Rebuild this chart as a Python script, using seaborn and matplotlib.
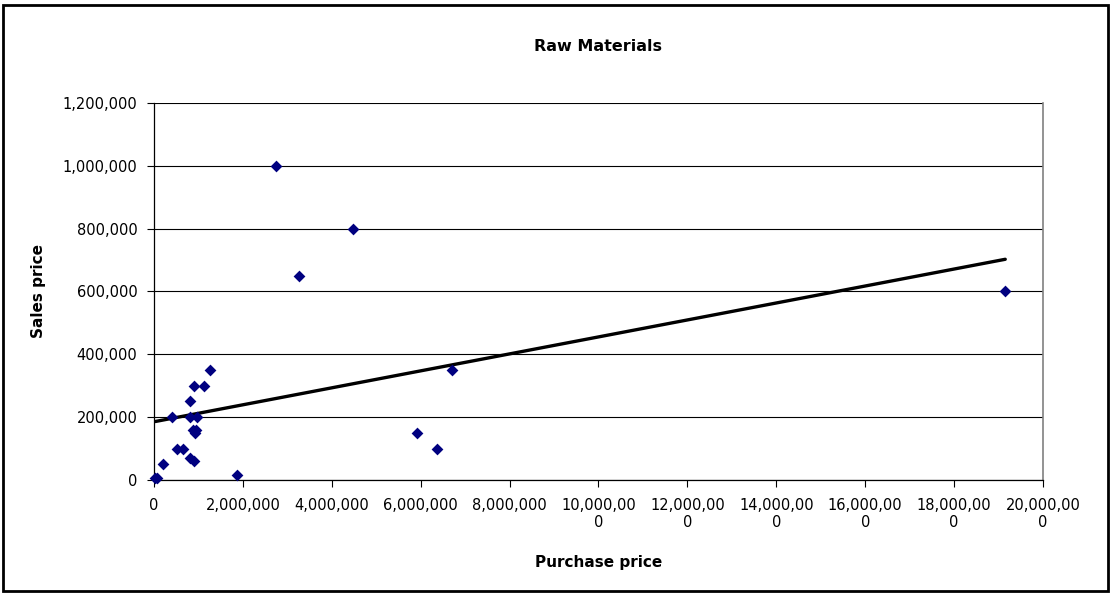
import numpy as np
import pandas as pd
import seaborn as sns
from matplotlib import pyplot as plt
from matplotlib.patches import Rectangle
from matplotlib.ticker import FuncFormatter

# Raw materials: purchase price vs sales price
purchase = [30000, 60000, 210000, 400000, 520000, 650000, 820000, 900000,
            820000, 820000, 960000, 880000, 950000, 920000, 900000, 1120000,
            1260000, 1875000, 2745000, 3255000, 4480000, 5910000, 6360000,
            6700000, 19150000]
sales = [5000, 5000, 50000, 200000, 100000, 100000, 70000, 60000,
         250000, 200000, 200000, 160000, 160000, 150000, 300000, 300000,
         350000, 16000, 1000000, 650000, 800000, 150000, 100000,
         350000, 600000]

x_ticks = list(range(0, 20000001, 2000000))
x_tick_labels = ["0", "2,000,000", "4,000,000", "6,000,000", "8,000,000",
                 "10,000,00\n0", "12,000,00\n0", "14,000,00\n0",
                 "16,000,00\n0", "18,000,00\n0", "20,000,00\n0"]
y_ticks = list(range(0, 1200001, 200000))

df = pd.DataFrame({"purchase": purchase, "sales": sales})

sns.set_style("ticks")
plt.rcParams["font.family"] = ["DejaVu Sans"]
plt.rcParams["text.color"] = "black"
plt.rcParams["axes.labelcolor"] = "black"
plt.rcParams["xtick.color"] = "black"
plt.rcParams["ytick.color"] = "black"

fig = plt.figure(figsize=(11.14, 5.95), dpi=100)
ax = fig.add_axes([0.1382, 0.1933, 0.9363 - 0.1382, 0.8269 - 0.1933])

ax.yaxis.grid(True, color="black", linewidth=0.8)
ax.set_axisbelow(True)

sns.regplot(data=df, x="purchase", y="sales", ci=None, scatter=False,
            line_kws={"color": "black", "linewidth": 2.4}, ax=ax)
sns.scatterplot(data=df, x="purchase", y="sales", marker="D", s=36,
                color="#000080", linewidth=0, clip_on=False, zorder=3, ax=ax)

ax.set_xlim(0, 20000000)
ax.set_ylim(0, 1200000)
ax.set_xticks(x_ticks)
ax.set_xticklabels(x_tick_labels, fontsize=10.5, linespacing=1.15)
ax.set_yticks(y_ticks)
ax.yaxis.set_major_formatter(FuncFormatter(lambda v, p: f"{v:,.0f}"))
ax.tick_params(axis="y", labelsize=10.5, length=5, width=0.8, pad=7)
ax.tick_params(axis="x", length=5, width=0.8, pad=8)

for side in ["left", "bottom"]:
    ax.spines[side].set_color("black")
    ax.spines[side].set_linewidth(0.9)
ax.spines["right"].set_visible(True)
ax.spines["right"].set_color("#808080")
ax.spines["right"].set_linewidth(1.2)
ax.spines["top"].set_visible(False)

ax.set_xlabel("Purchase price", fontsize=11, fontweight="bold", labelpad=18)
ax.set_ylabel("Sales price", fontsize=11, fontweight="bold", labelpad=12)
fig.text(0.537, 0.922, "Raw Materials", fontsize=11.5, fontweight="bold",
         ha="center", va="center")

fig.patches.append(Rectangle((0.0027, 0.0067), 0.9919, 0.9849,
                             transform=fig.transFigure, fill=False,
                             edgecolor="black", linewidth=2))

plt.savefig("out.png", dpi=100)
